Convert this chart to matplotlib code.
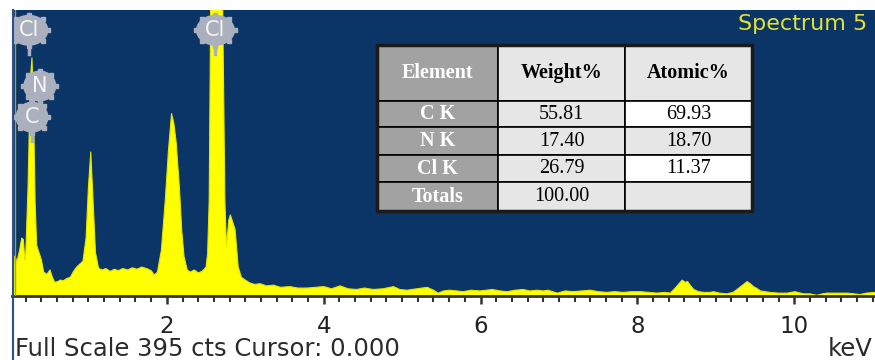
import numpy as np
import matplotlib.pyplot as plt
from matplotlib.patches import Ellipse, Rectangle
from matplotlib.lines import Line2D
from matplotlib.ticker import MultipleLocator

energy = [0.03, 0.06, 0.09, 0.12, 0.15, 0.17, 0.19, 0.20, 0.23, 0.26, 0.28, 0.30,
          0.32, 0.34, 0.37, 0.40, 0.43, 0.47, 0.51, 0.54, 0.57, 0.61, 0.64, 0.68,
          0.72, 0.77, 0.81, 0.85, 0.89, 0.93, 0.97, 1.00, 1.03, 1.06, 1.09, 1.13,
          1.18, 1.22, 1.28, 1.33, 1.38, 1.44, 1.50, 1.56, 1.62, 1.68, 1.74, 1.80,
          1.84, 1.88, 1.93, 1.98, 2.02, 2.06, 2.09, 2.12, 2.16, 2.19, 2.22, 2.26,
          2.30, 2.35, 2.40, 2.45, 2.50, 2.52, 2.54, 2.56, 2.60, 2.64, 2.68, 2.71,
          2.74, 2.76, 2.79, 2.81, 2.84, 2.87, 2.91, 2.95, 3.00, 3.06, 3.12, 3.19,
          3.27, 3.36, 3.45, 3.57, 3.67, 3.79, 3.90, 4.00, 4.10, 4.21, 4.31, 4.42,
          4.52, 4.63, 4.76, 4.89, 4.97, 5.06, 5.19, 5.32, 5.40, 5.46, 5.53, 5.61,
          5.70, 5.78, 5.88, 5.99, 6.07, 6.15, 6.25, 6.34, 6.44, 6.54, 6.63, 6.72,
          6.80, 6.86, 6.98, 7.08, 7.18, 7.29, 7.40, 7.50, 7.61, 7.71, 7.82, 7.93,
          8.04, 8.14, 8.25, 8.35, 8.42, 8.50, 8.57, 8.61, 8.64, 8.68, 8.72, 8.78,
          8.85, 8.93, 8.97, 9.05, 9.14, 9.22, 9.27, 9.34, 9.40, 9.44, 9.48, 9.53,
          9.57, 9.63, 9.69, 9.80, 9.91, 10.01, 10.12, 10.20, 10.29, 10.36, 10.42,
          10.55, 10.68, 10.76, 10.84, 10.92, 11.03]
counts = [25, 55, 48, 62, 80, 78, 50, 55, 150, 300, 329, 260,
          130, 70, 60, 50, 33, 30, 36, 26, 19, 20, 22, 21,
          24, 26, 34, 40, 44, 48, 80, 150, 199, 130, 60, 38,
          36, 38, 34, 37, 35, 38, 36, 39, 37, 40, 38, 35,
          29, 33, 63, 132, 200, 252, 238, 211, 150, 90, 54, 36,
          33, 36, 32, 34, 40, 59, 132, 420, 720, 790, 720, 420,
          132, 68, 105, 112, 102, 92, 40, 26, 22, 18, 16, 17,
          14, 15, 12, 13, 11, 11, 12, 13, 10, 14, 10, 9,
          11, 9, 10, 13, 9, 8, 10, 12, 8, 4, 7, 8,
          7, 6, 8, 7, 8, 9, 7, 6, 8, 9, 7, 8,
          7, 8, 4, 7, 6, 7, 8, 6, 5, 6, 5, 6,
          6, 5, 4, 5, 4, 13, 22, 19, 20, 14, 9, 6,
          5, 5, 6, 4, 3, 5, 9, 15, 20, 17, 13, 10,
          7, 6, 5, 4, 4, 6, 3, 3, 1, 3, 4,
          4, 4, 3, 2, 4, 5]

full_scale = 395

# element marker balloons
peak_labels = ["Cl", "N", "C", "Cl"]
peak_kev = [0.24, 0.38, 0.28, 2.62]
peak_cts = [367, 290, 247, 367]

# quantification table
elements = ["C K", "N K", "Cl K", "Totals"]
weight_pct = ["55.81", "17.40", "26.79", "100.00"]
atomic_pct = ["69.93", "18.70", "11.37", ""]

NAVY = "#0b3467"
YELLOW = "#ffff00"
BALLOON = "#aab0bd"
W, H = 875, 360


def fx(px):
    return px / W


def fy(py):
    return 1 - py / H


fig = plt.figure(figsize=(W / 100, H / 100), dpi=100)
fig.patch.set_facecolor("white")

ax = fig.add_axes([fx(12), fy(296), fx(875) - fx(12), fy(10) - fy(296)])
ax.set_facecolor(NAVY)
ax.fill_between(energy, counts, color=YELLOW, lw=0, zorder=2)
ax.plot(energy, counts, color="#e6e600", lw=0.8, zorder=2)
ax.axvline(0.065, color="#a3a338", lw=1, zorder=3)
ax.set_xlim(0.0255, 11.03)
ax.set_ylim(0, full_scale)

ax.xaxis.set_major_locator(MultipleLocator(2))
ax.xaxis.set_minor_locator(MultipleLocator(0.2))
ax.xaxis.set_major_formatter(lambda v, p: f"{v:.0f}")
ax.tick_params(axis="x", which="major", direction="out", length=6, width=1.8,
               color="#333333", labelsize=16.5, labelcolor="#222222", pad=8)
ax.tick_params(axis="x", which="minor", direction="out", length=4, width=1.5,
               color="#333333")
ax.set_yticks([])
for side in ["left", "right", "top"]:
    ax.spines[side].set_visible(False)
ax.spines["bottom"].set_color("#333333")
ax.spines["bottom"].set_linewidth(2)

# balloons: width/height in data units (78.4 px per keV, 0.724 px per count)
px_kev = 1 / 78.4
px_cts = full_scale / 286
for lab, kx, ky in zip(peak_labels, peak_kev, peak_cts):
    bw = (39 if len(lab) > 1 else 33) * px_kev
    bh = 31 * px_cts
    ax.plot([kx, kx], [ky - bh / 2 - 8 * px_cts, ky], color=BALLOON, lw=2.5, zorder=4)
    ang = np.deg2rad(np.arange(0, 360, 45))
    ax.plot(kx + bw / 2 * np.cos(ang), ky + bh / 2 * np.sin(ang), "s",
            color=BALLOON, ms=3.5, zorder=4)
    ax.add_patch(Ellipse((kx, ky), bw, bh, fc=BALLOON, ec="none", zorder=4))
    ax.text(kx, ky, lab, ha="center", va="center", color="#f4f4f4",
            fontsize=15, zorder=5)

# results table
tax = fig.add_axes([fx(377), fy(211), fx(752) - fx(377), fy(45) - fy(211)])
tax.axis("off")
rows = [["Element", "Weight%", "Atomic%"]] + [
    [e, w, a] for e, w, a in zip(elements, weight_pct, atomic_pct)]
tab = tax.table(cellText=rows, cellLoc="center", bbox=[0, 0, 1, 1])
tab.auto_set_font_size(False)
col_w = [120, 127, 126]
row_h = [55, 26, 27, 27, 28]
for (r, c), cell in tab.get_celld().items():
    cell.set_width(col_w[c])
    cell.set_height(row_h[r])
    cell.set_edgecolor("black")
    cell.set_linewidth(1.2)
    txt = cell.get_text()
    txt.set_fontfamily("Liberation Serif")
    txt.set_fontsize(14.5)
    if c == 0:
        cell.set_facecolor("#a2a2a2")
        txt.set_color("white")
        txt.set_fontweight("bold")
    elif c == 2 and r in (1, 3):
        cell.set_facecolor("white")
    else:
        cell.set_facecolor("#e6e6e6")
    if r == 0:
        txt.set_fontweight("bold")
tax.add_patch(Rectangle((0, 0), 1, 1, transform=tax.transAxes, fill=False,
                        ec="#1a1a1a", lw=2.5, clip_on=False, zorder=10))

fig.text(fx(867), fy(30), "Spectrum 5", ha="right", va="baseline",
         color="#e2e236", fontsize=16)
fig.text(fx(15), fy(356), f"Full Scale {full_scale} cts Cursor: 0.000",
         ha="left", va="baseline", color="#2b2b2b", fontsize=17.5)
fig.text(fx(873), fy(356), "keV", ha="right", va="baseline",
         color="#2b2b2b", fontsize=17.5)
fig.add_artist(Line2D([fx(12.5)] * 2, [0, fy(10)], color="#2f4f8f", lw=1.5))

fig.savefig("out.png", dpi=100, facecolor="white")
